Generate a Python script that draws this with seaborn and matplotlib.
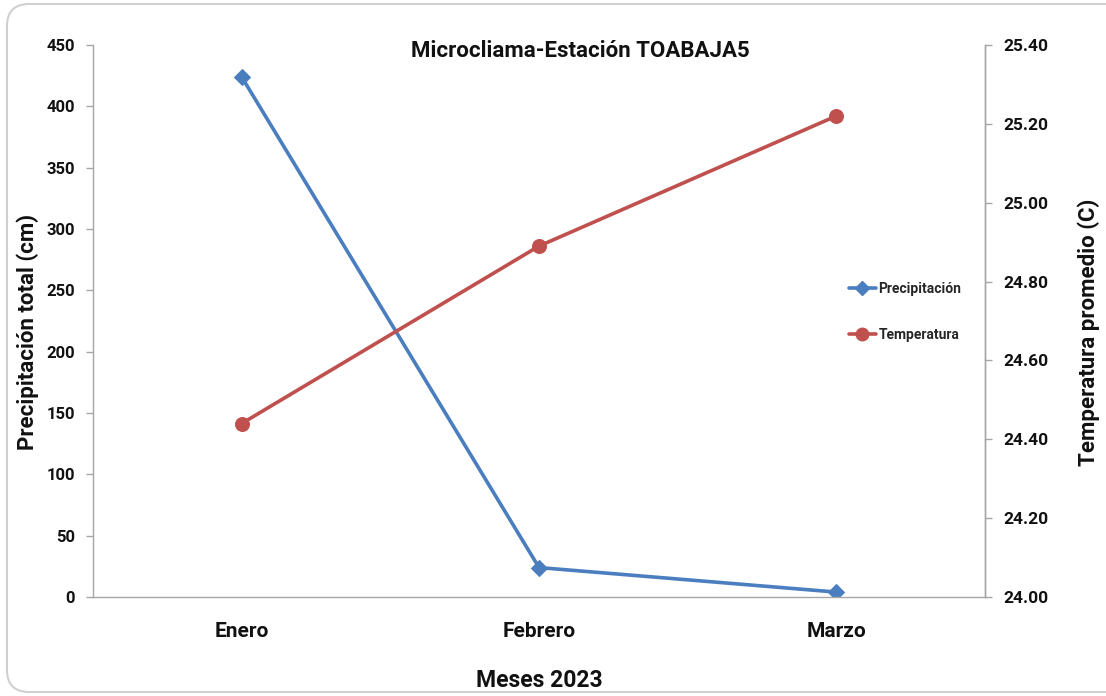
import matplotlib
matplotlib.use("Agg")
import matplotlib.pyplot as plt
from matplotlib.patches import FancyBboxPatch
from matplotlib.lines import Line2D
import seaborn as sns
import pandas as pd

meses = ["Enero", "Febrero", "Marzo"]
precipitacion = [424, 24, 4]
temperatura = [24.44, 24.89, 25.22]
ticks_precip = [0, 50, 100, 150, 200, 250, 300, 350, 400, 450]
ticks_temp = [24.00, 24.20, 24.40, 24.60, 24.80, 25.00, 25.20, 25.40]

azul = "#4A7EBF"
rojo = "#C0504D"
gris = "#A6A6A6"
texto = "#111111"

sns.set_theme(style="white")
plt.rcParams["font.family"] = ["Roboto", "DejaVu Sans"]

df = pd.DataFrame({"mes": meses, "precip": precipitacion, "temp": temperatura})

fig = plt.figure(figsize=(11.06, 6.96), dpi=100)
ax = fig.add_axes([93 / 1106, 1 - 597 / 696, 892 / 1106, 552 / 696])

# rounded card frame around the chart
card = FancyBboxPatch((7 / 1106, 4 / 696), 1.2, 1 - 8 / 696,
                      boxstyle="round,pad=0,rounding_size=0.02",
                      transform=fig.transFigure, fill=False,
                      edgecolor="#D0D0D0", linewidth=1.5, zorder=0,
                      mutation_aspect=1106 / 696)
fig.patches.append(card)

sns.lineplot(data=df, x="mes", y="precip", ax=ax, color=azul, linewidth=2.6,
             marker="D", markersize=8, markeredgecolor=azul, sort=False)
ax2 = ax.twinx()
sns.lineplot(data=df, x="mes", y="temp", ax=ax2, color=rojo, linewidth=2.6,
             marker="o", markersize=10, markeredgecolor=rojo, sort=False)

ax.set_xlim(-0.5, 2.5)
ax.set_ylim(0, 450)
ax2.set_ylim(24.0, 25.4)
ax.set_yticks(ticks_precip)
ax.set_yticklabels([str(t) for t in ticks_precip])
ax2.set_yticks(ticks_temp)
ax2.set_yticklabels([f"{t:.2f}" for t in ticks_temp])

# category separators on the x axis
ax.set_xticks([0, 1, 2])
ax.set_xticklabels(meses)
ax.set_xticks([-0.5, 0.5, 1.5, 2.5], minor=True)
ax.tick_params(axis="x", which="major", length=0, pad=18, labelsize=15)
ax.tick_params(axis="x", which="minor", length=6, width=1, color=gris, direction="out")
ax.tick_params(axis="y", length=5, width=1, color=gris, direction="out", labelsize=12, pad=8)
ax2.tick_params(axis="y", length=5, width=1, color=gris, direction="out", labelsize=12.5, pad=8)
for lab in ax.get_xticklabels() + ax.get_yticklabels() + ax2.get_yticklabels():
    lab.set_fontweight("bold")
    lab.set_color(texto)

for a in (ax, ax2):
    a.spines["top"].set_visible(False)
    for s in ("left", "right", "bottom"):
        a.spines[s].set_color(gris)
        a.spines[s].set_linewidth(1)
ax2.spines["left"].set_visible(False)
ax2.spines["bottom"].set_visible(False)

ax.set_xlabel("Meses 2023", fontsize=16.5, fontweight="bold", labelpad=20, color=texto)
ax.set_ylabel("Precipitación total (cm)", fontsize=16, fontweight="bold", color=texto)
ax2.set_ylabel("Temperatura promedio (C)", fontsize=16, fontweight="bold", color=texto)
ax.yaxis.set_label_coords(-0.061, 0.48)
ax2.yaxis.set_label_coords(1.104, 0.48)

fig.text(580 / 1106, 1 - 51 / 696, "Microcliama-Estación TOABAJA5", ha="center", va="center",
         fontsize=16, fontweight="bold", color=texto)

handles = [
    Line2D([], [], color=azul, linewidth=2.6, marker="D", markersize=7, markeredgecolor=azul),
    Line2D([], [], color=rojo, linewidth=2.6, marker="o", markersize=9, markeredgecolor=rojo),
]
if ax.get_legend():
    ax.get_legend().remove()
fig.legend(handles, ["Precipitación", "Temperatura"], loc="center left",
           bbox_to_anchor=(836 / 1106, 1 - 312 / 696), frameon=False,
           prop={"size": 10, "weight": "bold"}, handlelength=2.0, handletextpad=0.15,
           labelspacing=2.35)

fig.savefig("out.png", dpi=100, facecolor="white")
